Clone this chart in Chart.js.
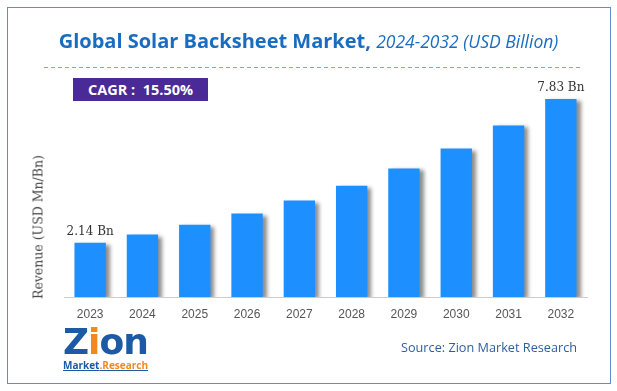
<!DOCTYPE html>
<html><head><meta charset="utf-8">
<script src="https://cdn.jsdelivr.net/npm/chart.js@4/dist/chart.umd.min.js"></script>
<style>
html,body{margin:0;padding:0;background:#fff;}
#wrap{position:relative;width:617px;height:391px;overflow:hidden;font-family:"Open Sans",sans-serif;}
#frame{position:absolute;left:7px;top:7px;width:602px;height:375px;border:1px solid #5b8fd0;}
#c{position:absolute;left:0;top:0;}
#title{position:absolute;left:0;width:617px;top:27px;text-align:center;color:#1a6cbf;font-size:20px;white-space:nowrap;}
#title b{font-weight:700;}
#title i{font-weight:400;font-size:17.5px;}
#dash{position:absolute;left:44px;top:67px;width:538px;height:1px;background:repeating-linear-gradient(90deg,#f08a3c 0 4px,transparent 4px 7px);}
#cagr{position:absolute;left:73px;top:78px;width:135px;height:23px;background:#4a2a96;color:#fff;font-weight:700;font-size:14.5px;line-height:23px;text-align:center;}
#ytitle{position:absolute;left:38px;top:227px;transform:translate(-50%,-50%) rotate(-90deg);font-family:"DejaVu Serif",serif;font-size:12.5px;color:#444;white-space:nowrap;}
#source{position:absolute;left:401px;top:338px;color:#2e5e9e;font-size:12.7px;white-space:nowrap;}
#logo{position:absolute;left:63px;top:323px;width:84px;}
#logo .big{font-family:"DejaVu Sans",sans-serif;font-weight:900;font-size:36px;color:#1c5aa6;letter-spacing:-1px;line-height:38px;}
#logo .big span{color:#f08a1c;}
#logo .small{font-size:10px;font-weight:700;color:#1c5aa6;margin-top:-3px;text-decoration:underline;white-space:nowrap;}
#logo .small span{color:#f08a1c;}
</style></head>
<body>
<div id="wrap">
<div id="frame"></div>
<canvas id="c" width="617" height="391"></canvas>
<div id="title"><b>Global Solar Backsheet Market,</b> <i>2024-2032 (USD Billion)</i></div>
<div id="dash"></div>
<div id="cagr">CAGR :&nbsp; 15.50%</div>
<div id="ytitle">Revenue (USD Mn/Bn)</div>
<div id="logo"><div class="big">Z<span>i</span>on</div><div class="small">Market<span>.Research</span></div></div>
<div id="source">Source: Zion Market Research</div>
</div>
<script>
const years = ["2023","2024","2025","2026","2027","2028","2029","2030","2031","2032"];
const revenue = [2.14, 2.47, 2.86, 3.30, 3.81, 4.40, 5.08, 5.87, 6.78, 7.83];
const valueLabels = ["2.14 Bn","","","","","","","","","7.83 Bn"];

const shadowPlugin = {
  id:'shadow',
  beforeDatasetsDraw(chart){const ctx=chart.ctx;ctx.save();ctx.shadowColor='rgba(0,0,0,0.45)';ctx.shadowBlur=4;ctx.shadowOffsetX=4;ctx.shadowOffsetY=2;},
  afterDatasetsDraw(chart){chart.ctx.restore();
    const ctx=chart.ctx;const meta=chart.getDatasetMeta(0);
    ctx.save();ctx.font='12px "DejaVu Serif", serif';ctx.fillStyle='#333';ctx.textAlign='center';ctx.textBaseline='bottom';
    meta.data.forEach((b,i)=>{if(valueLabels[i])ctx.fillText(valueLabels[i],b.x,b.y-5);});
    ctx.restore();}
};

new Chart(document.getElementById('c'),{
  type:'bar',
  data:{labels:years,datasets:[{data:revenue,backgroundColor:'#1e8fff',barPercentage:0.6,categoryPercentage:1}]},
  options:{responsive:false,animation:false,
    layout:{padding:{left:0,right:30,top:0,bottom:0}},
    plugins:{legend:{display:false},tooltip:{enabled:false}},
    scales:{
      x:{grid:{display:false},border:{display:true,color:'#cccccc'},
         ticks:{color:'#555',font:{family:'"Liberation Sans", Arial, sans-serif',size:12},padding:2,maxRotation:0},
         afterFit(s){s.height=94;}},
      y:{display:true,min:0,max:11.74,grid:{display:false},border:{display:false},ticks:{display:false},
         afterFit(s){s.width=64;}}
    }},
  plugins:[shadowPlugin]
});
</script>
</body></html>
